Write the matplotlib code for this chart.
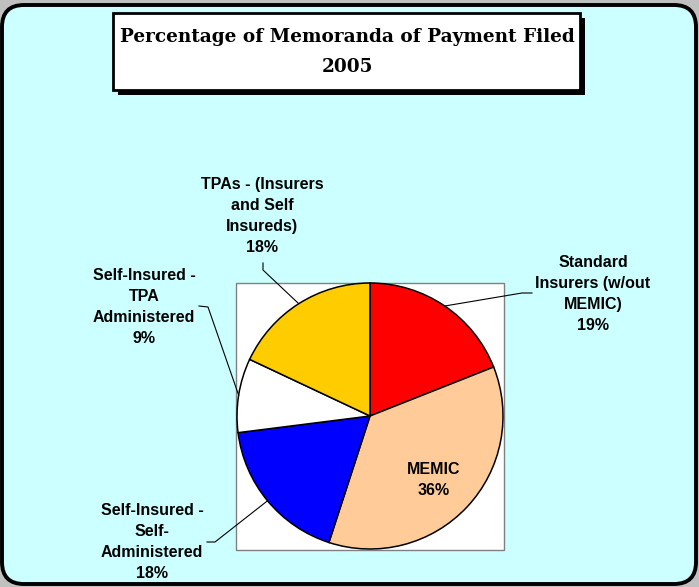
import numpy as np
import matplotlib.pyplot as plt
import matplotlib.transforms as mtransforms
from matplotlib.patches import FancyBboxPatch, Rectangle

# data
names = ["Standard\nInsurers (w/out\nMEMIC)", "MEMIC", "Self-Insured -\nSelf-\nAdministered",
         "Self-Insured -\nTPA\nAdministered", "TPAs - (Insurers\nand Self\nInsureds)"]
shares = [19, 36, 18, 9, 18]
colors = ["#FF0000", "#FFCC99", "#0000FF", "#FFFFFF", "#FFCC00"]

W, H = 699, 587
fig = plt.figure(figsize=(W / 100, H / 100), dpi=100)
fig.patch.set_facecolor("#C0C0C0")
# pixel coords, y going down
px = mtransforms.Affine2D().scale(1 / W, -1 / H).translate(0, 1) + fig.transFigure

bg = FancyBboxPatch((2, 5), 694, 579, boxstyle="round,pad=0,rounding_size=22",
                    transform=px, fc="#CCFFFF", ec="black", lw=2.8, zorder=-3)
fig.patches.append(bg)

# title box with shadow
fig.patches.append(Rectangle((118, 18), 467, 77, transform=px, fc="black", ec="none", zorder=-2))
fig.patches.append(Rectangle((113, 13), 467, 77, transform=px, fc="white", ec="black", lw=2, zorder=-1))
fig.text(347, 37, "Percentage of Memoranda of Payment Filed", transform=px, ha="center", va="center",
         family="DejaVu Serif", weight="bold", fontsize=13.3)
fig.text(347, 67, "2005", transform=px, ha="center", va="center",
         family="DejaVu Serif", weight="bold", fontsize=13.3)

# white plot area
fig.patches.append(Rectangle((236, 283), 268, 267, transform=px, fc="white", ec="#808080", lw=1, zorder=-1))

ax = fig.add_axes([237 / W, 1 - 549 / H, 266 / W, 266 / H])
wedges, _ = ax.pie(shares, colors=colors, startangle=90, counterclock=False, radius=1,
                   wedgeprops=dict(edgecolor="black", linewidth=1.1))
ax.set_xlim(-1, 1)
ax.set_ylim(-1, 1)
ax.axis("off")

to_data = px + ax.transData.inverted()

font = dict(family="Liberation Sans", weight="bold", fontsize=11.5, linespacing=1.52,
            ha="center", va="center", color="black")

# label centres and leader (end, elbow) in pixels
label_pos = [(593, 294), None, (152, 542), (144, 307), (262, 216)]
leaders = [[(532, 293), (522, 293)], None, [(207, 542), (215, 542)],
           [(199, 306), (208, 307)], [(263, 263), (263, 270)]]

for w, name, val, pos, lead in zip(wedges, names, shares, label_pos, leaders):
    mid = np.deg2rad((w.theta1 + w.theta2) / 2)
    txt = f"{name}\n{val}%"
    if pos is None:
        ax.text(0.66 * np.cos(mid), 0.70 * np.sin(mid), txt, **font)
        continue
    fig.text(pos[0], pos[1], txt, transform=px, **font)
    pts = [to_data.transform(p) for p in lead] + [(np.cos(mid), np.sin(mid))]
    pts = np.array(pts)
    ax.plot(pts[:, 0], pts[:, 1], color="black", lw=0.8, clip_on=False)

fig.savefig("out.png", dpi=100, facecolor=fig.get_facecolor())
